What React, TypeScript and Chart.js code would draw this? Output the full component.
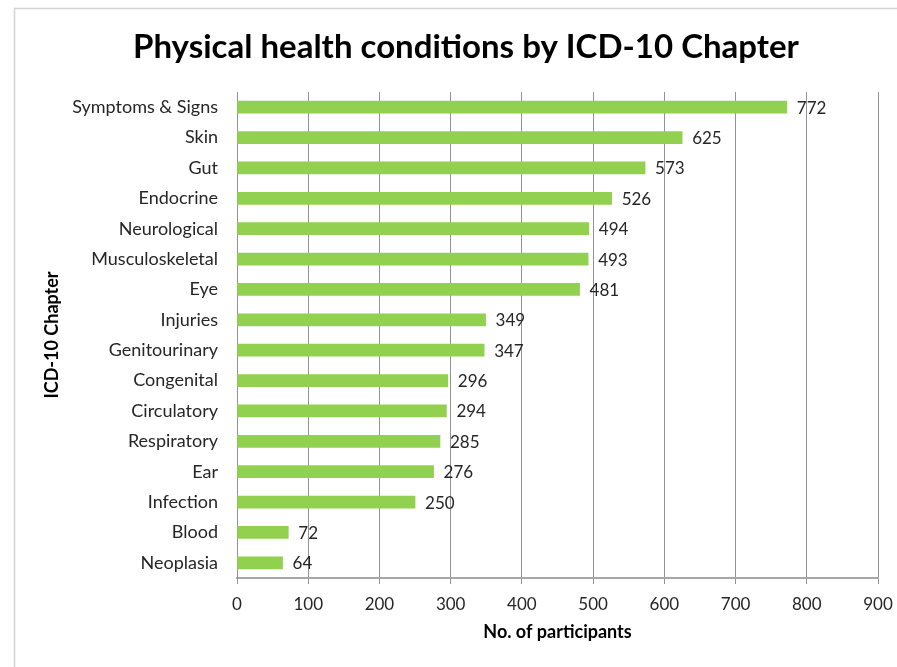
import React, { useEffect, useRef } from "react";
import { Chart, registerables } from "chart.js";

Chart.register(...registerables);

const categories = [
  "Symptoms & Signs",
  "Skin",
  "Gut",
  "Endocrine",
  "Neurological",
  "Musculoskeletal",
  "Eye",
  "Injuries",
  "Genitourinary",
  "Congenital",
  "Circulatory",
  "Respiratory",
  "Ear",
  "Infection",
  "Blood",
  "Neoplasia",
];

const participants = [772, 625, 573, 526, 494, 493, 481, 349, 347, 296, 294, 285, 276, 250, 72, 64];

const xTicks = [0, 100, 200, 300, 400, 500, 600, 700, 800, 900];

const chartTitle = "Physical health conditions by ICD-10 Chapter";
const xTitle = "No. of participants";
const yTitle = "ICD-10 Chapter";

const FONT = "Lato, 'Noto Sans', sans-serif";
const GRID = "#939393";
const BAR = "#92d050";
const TEXT = "#262626";

// Frame lines and the centred heading
const framePlugin = {
  id: "frame",
  beforeDraw(chart: any) {
    const { ctx } = chart;
    ctx.save();
    ctx.fillStyle = "#ffffff";
    ctx.fillRect(0, 0, chart.width, chart.height);
    ctx.strokeStyle = "#d4d4d4";
    ctx.lineWidth = 1.5;
    ctx.beginPath();
    ctx.moveTo(14.5, chart.height);
    ctx.lineTo(14.5, 8.5);
    ctx.lineTo(chart.width, 8.5);
    ctx.stroke();
    ctx.restore();
  },
  afterDraw(chart: any) {
    const { ctx } = chart;
    ctx.save();
    ctx.fillStyle = "#000000";
    ctx.font = `bold 33px ${FONT}`;
    ctx.textAlign = "center";
    ctx.textBaseline = "middle";
    ctx.fillText(chartTitle, 466, 47);
    ctx.restore();
  },
};

// Value printed just past the end of each bar
const valueLabelPlugin = {
  id: "valueLabels",
  afterDatasetsDraw(chart: any) {
    const { ctx } = chart;
    const meta = chart.getDatasetMeta(0);
    ctx.save();
    ctx.fillStyle = TEXT;
    ctx.font = `17px ${FONT}`;
    ctx.textAlign = "left";
    ctx.textBaseline = "middle";
    meta.data.forEach((bar: any, i: number) => {
      ctx.fillText(String(participants[i]), bar.x + 10, bar.y + 1);
    });
    ctx.restore();
  },
};

export default function App() {
  const canvasRef = useRef<HTMLCanvasElement | null>(null);

  useEffect(() => {
    if (!canvasRef.current) return;
    const chart = new Chart(canvasRef.current, {
      type: "bar",
      data: {
        labels: categories,
        datasets: [
          {
            data: participants,
            backgroundColor: BAR,
            borderWidth: 0,
            barThickness: 12,
          },
        ],
      },
      options: {
        indexAxis: "y",
        responsive: false,
        animation: false,
        layout: { padding: { left: 14, right: 19, top: 92, bottom: 24 } },
        plugins: {
          legend: { display: false },
          title: { display: false },
          tooltip: { enabled: false },
        },
        scales: {
          x: {
            type: "linear",
            min: 0,
            max: 900,
            afterBuildTicks(scale: any) {
              scale.ticks = xTicks.map((v) => ({ value: v }));
            },
            afterFit(scale: any) {
              scale.height = 65;
              scale.paddingLeft = 0;
              scale.paddingRight = 0;
            },
            grid: { color: GRID, lineWidth: 1, drawTicks: true, tickLength: 6 },
            border: { color: "#a8a8a8", width: 2 },
            ticks: {
              color: TEXT,
              padding: 10,
              font: { family: FONT, size: 17, lineHeight: 1.2 },
            },
            title: {
              display: true,
              text: xTitle,
              color: "#000000",
              font: { family: FONT, size: 18, weight: "bold", lineHeight: 1.2 },
              padding: { top: 0, bottom: 0 },
            },
          },
          y: {
            afterFit(scale: any) {
              scale.width = 223;
            },
            grid: { display: false, drawTicks: false },
            border: { color: GRID, width: 1 },
            ticks: {
              color: TEXT,
              padding: 19,
              font: { family: FONT, size: 18, lineHeight: 1.2 },
            },
            title: {
              display: true,
              text: yTitle,
              color: "#000000",
              font: { family: FONT, size: 18, weight: "bold", lineHeight: 1.2 },
              padding: { top: 27, bottom: 0 },
            },
          },
        },
      },
      plugins: [framePlugin, valueLabelPlugin],
    });
    return () => chart.destroy();
  }, []);

  return (
    <div style={{ position: "fixed", left: 0, top: 0, width: 897, height: 667 }}>
      <canvas ref={canvasRef} width={897} height={667} />
    </div>
  );
}
